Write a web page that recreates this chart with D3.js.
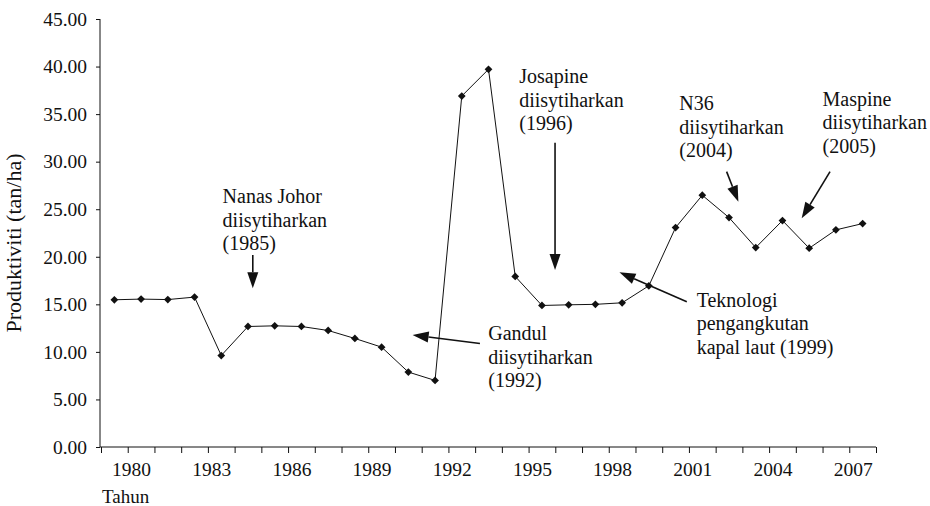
<!DOCTYPE html>
<html>
<head>
<meta charset="utf-8">
<script src="https://cdn.jsdelivr.net/npm/d3@7"></script>
<style>
  body { margin: 0; background: #fff; }
  svg text { font-family: "Liberation Serif", "Times New Roman", serif; fill: #111; }
</style>
</head>
<body>
<svg id="chart" width="930" height="506"></svg>
<script>
// data
var years = [1979, 1980, 1981, 1982, 1983, 1984, 1985, 1986, 1987, 1988,
             1989, 1990, 1991, 1992, 1993, 1994, 1995, 1996, 1997, 1998,
             1999, 2000, 2001, 2002, 2003, 2004, 2005, 2006, 2007];
var produktiviti = [15.48, 15.55, 15.50, 15.76, 9.62, 12.67, 12.74, 12.67, 12.25, 11.41,
                    10.50, 7.88, 7.00, 36.90, 39.71, 17.93, 14.88, 14.95, 15.00, 15.16,
                    16.95, 23.07, 26.47, 24.12, 20.97, 23.81, 20.90, 22.83, 23.49];
var yTicks = [0, 5, 10, 15, 20, 25, 30, 35, 40, 45];
var yearLabels = [1980, 1983, 1986, 1989, 1992, 1995, 1998, 2001, 2004, 2007];

// annotations, in data units (year, value)
var noteLines = [
  ['Nanas Johor', 'diisytiharkan', '(1985)'],
  ['Gandul', 'diisytiharkan', '(1992)'],
  ['Josapine', 'diisytiharkan', '(1996)'],
  ['Teknologi', 'pengangkutan', 'kapal laut (1999)'],
  ['N36', 'diisytiharkan', '(2004)'],
  ['Maspine', 'diisytiharkan', '(2005)']
];
var noteAt = [[1983.05, 25.65], [1992.99, 11.25], [1994.15, 38.24],
              [2000.79, 14.75], [2000.14, 35.38], [2005.50, 35.90]];
var arrowFrom = [[1984.18, 20.19], [1992.68, 10.88], [1995.49, 32.00],
                 [2000.42, 15.28], [2001.91, 28.95], [2005.78, 28.95]];
var arrowTo = [[1984.18, 16.69], [1990.16, 11.78], [1995.49, 18.61],
               [1997.90, 18.37], [2002.35, 25.79], [2004.72, 24.05]];

var svg = d3.select('#chart');

var x = d3.scaleLinear().domain([1978.5, 2007.5]).range([101, 876]);
var y = d3.scaleLinear().domain([0, 45]).range([447, 19]);

// y axis
var yAxis = svg.append('g')
    .attr('transform', 'translate(100,0)')
    .call(d3.axisLeft(y).tickValues(yTicks).tickSize(4).tickPadding(9)
        .tickFormat(d3.format('.2f')));
yAxis.select('.domain').attr('d', 'M0,' + y(45) + 'V' + y(0)).attr('stroke', '#111');
yAxis.selectAll('.tick line').attr('stroke', '#111');
yAxis.selectAll('text').attr('font-family', null).attr('font-size', 19.5);

// x axis: ticks sit between the years
var tickPos = years.map(function(d){ return d - 0.5 }).concat([years[years.length - 1] + 0.5]);
var xAxis = svg.append('g')
    .attr('transform', 'translate(0,' + y(0) + ')')
    .call(d3.axisBottom(x).tickValues(tickPos).tickSize(6).tickSizeOuter(0).tickFormat(''));
xAxis.select('.domain').attr('d', 'M100,0H' + x(2007.5)).attr('stroke', '#111');
xAxis.selectAll('.tick line').attr('stroke', '#111');

var xLabels = svg.append('g')
    .attr('transform', 'translate(0,' + y(0) + ')')
    .call(d3.axisBottom(x).tickValues(yearLabels).tickSize(0).tickPadding(15)
        .tickFormat(d3.format('d')));
xLabels.select('.domain').remove();
xLabels.selectAll('text').attr('font-family', null).attr('font-size', 19.5).attr('dx', -10);

// axis titles
svg.append('text')
    .attr('transform', 'translate(21,243) rotate(-90)')
    .attr('text-anchor', 'middle')
    .attr('font-size', 22)
    .text('Produktiviti (tan/ha)');
svg.append('text')
    .attr('x', 102).attr('y', 503)
    .attr('font-size', 19)
    .text('Tahun');

// the line
var series = years.map(function(d, i){ return {year: d, value: produktiviti[i]} });
var line = d3.line()
    .x(function(d){ return x(d.year) })
    .y(function(d){ return y(d.value) });
svg.append('path')
    .datum(series)
    .attr('fill', 'none')
    .attr('stroke', '#111')
    .attr('stroke-width', 1)
    .attr('d', line);

svg.selectAll('.dot')
    .data(series)
  .enter().append('path')
    .attr('class', 'dot')
    .attr('transform', function(d){ return 'translate(' + x(d.year) + ',' + y(d.value) + ') rotate(45)' })
    .attr('d', d3.symbol(d3.symbolSquare, 30))
    .attr('fill', '#111');

// annotations with arrows
var notes = svg.append('g').attr('class', 'notes');
noteLines.forEach(function(lines, i){
    var t = notes.append('text')
        .attr('x', x(noteAt[i][0]))
        .attr('y', y(noteAt[i][1]))
        .attr('font-size', 20);
    lines.forEach(function(s, j){
        t.append('tspan')
            .attr('x', x(noteAt[i][0]))
            .attr('dy', j === 0 ? 0 : 23.5)
            .text(s);
    });

    var x1 = x(arrowFrom[i][0]), y1 = y(arrowFrom[i][1]);
    var x2 = x(arrowTo[i][0]), y2 = y(arrowTo[i][1]);
    var ang = Math.atan2(y2 - y1, x2 - x1);
    var headLen = 16, headW = 5.5;
    var bx = x2 - headLen * Math.cos(ang), by = y2 - headLen * Math.sin(ang);
    notes.append('line')
        .attr('x1', x1).attr('y1', y1)
        .attr('x2', bx).attr('y2', by)
        .attr('stroke', '#111')
        .attr('stroke-width', 1.6);
    var px = -Math.sin(ang) * headW, py = Math.cos(ang) * headW;
    notes.append('path')
        .attr('d', 'M' + x2 + ',' + y2 + 'L' + (bx + px) + ',' + (by + py) + 'L' + (bx - px) + ',' + (by - py) + 'Z')
        .attr('fill', '#111');
});
</script>
</body>
</html>
